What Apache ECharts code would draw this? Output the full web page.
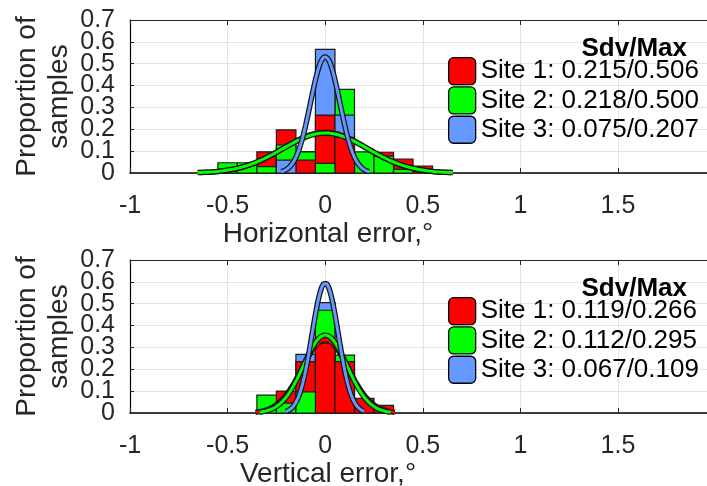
<!DOCTYPE html>
<html>
<head>
<meta charset="utf-8">
<script src="https://cdn.jsdelivr.net/npm/echarts@6/dist/echarts.min.js"></script>
<style>
  html, body { margin: 0; padding: 0; background: #ffffff; }
  #chart { width: 707px; height: 486px; }
</style>
</head>
<body>
<div id="chart"></div>
<script>
const FONT = '"Liberation Sans", Arial, Helvetica, sans-serif';
const AXIS_GREY = '#262626';

const siteNames = ['Site 1', 'Site 2', 'Site 3'];
const siteColors = ['#ff0000', '#00ff00', '#6699ff'];
const binWidth = 0.1;

// Horizontal error: proportion of samples per 0.1° bin
const hBins  = [-0.5, -0.4, -0.3, -0.2, -0.1, 0, 0.1, 0.2, 0.3, 0.4, 0.5];
const hSite1 = [0, 0, 0.097, 0.197, 0.059, 0.265, 0.163, 0, 0.095, 0.064, 0.032];
const hSite2 = [0.047, 0.047, 0.029, 0.128, 0.097, 0.044, 0.383, 0.097, 0.077, 0.017, 0];
const hSite3 = [0, 0, 0, 0.059, 0.097, 0.566, 0.265, 0, 0, 0, 0];
const hMean  = [0, 0, 0];
const hSdv   = [0.215, 0.218, 0.075];
const hMax   = [0.506, 0.500, 0.207];

// Vertical error: proportion of samples per 0.1° bin
const vBins  = [-0.3, -0.2, -0.1, 0, 0.1, 0.2, 0.3];
const vSite1 = [0, 0.100, 0.235, 0.320, 0.235, 0.067, 0.035];
const vSite2 = [0.082, 0.045, 0.097, 0.470, 0.265, 0, 0];
const vSite3 = [0, 0, 0.268, 0.505, 0.235, 0, 0];
const vMean  = [0, 0, 0];
const vSdv   = [0.119, 0.112, 0.067];
const vMax   = [0.266, 0.295, 0.109];

// Axis ranges and tick steps
const xMin = -1, xMax = 1.956, xStep = 0.5;
const yMin = 0, yMax = 0.7, yStep = 0.1;
const xTitles = ['Horizontal error,°', 'Vertical error,°'];
const yTitle = 'Proportion of\nsamples';
const legendTitle = 'Sdv/Max';

// Panel geometry (pixels)
const panelTop = [20, 260];
const panelHeight = 153;
const plotLeft = 130;

// Rounded-square legend swatch
const SWATCH = 'path://M5,0H22A5,5,0,0,1,27,5V22A5,5,0,0,1,22,27H5A5,5,0,0,1,0,22V5A5,5,0,0,1,5,0Z';

// Per bin, taller bars go behind shorter ones (ties: later site behind)
function drawRanks(cols) {
  const n = cols[0].length;
  const r = cols.map(() => new Array(n).fill(0));
  for (let i = 0; i < n; i++) {
    const order = [2, 1, 0].sort((a, b) => cols[b][i] - cols[a][i]);
    order.forEach((s, k) => { r[s][i] = k; });
  }
  return r;
}

// Normal fit scaled to bin width, drawn over mean ± 3 sdv
function fitCurve(mean, sdv) {
  const pts = [];
  const n = 160;
  for (let k = 0; k <= n; k++) {
    const x = mean - 3 * sdv + (6 * sdv * k) / n;
    const z = (x - mean) / sdv;
    pts.push([x, binWidth * Math.exp(-z * z / 2) / (sdv * Math.sqrt(2 * Math.PI))]);
  }
  return pts;
}

function renderBar(params, api) {
  const c = api.value(0), v = api.value(1), rank = api.value(2);
  if (!v) return null;
  const p0 = api.coord([c - binWidth / 2, v]);
  const p1 = api.coord([c + binWidth / 2, 0]);
  return {
    type: 'rect',
    z2: rank,
    shape: { x: p0[0], y: p0[1], width: p1[0] - p0[0], height: p1[1] - p0[1] },
    style: { fill: api.visual('color'), stroke: '#1a1a1a', lineWidth: 1.2 }
  };
}

const panels = [
  { bins: hBins, sites: [hSite1, hSite2, hSite3], mean: hMean, sdv: hSdv, max: hMax },
  { bins: vBins, sites: [vSite1, vSite2, vSite3], mean: vMean, sdv: vSdv, max: vMax }
];

const yLabelStyle = { fontFamily: FONT, fontSize: 25, color: AXIS_GREY, margin: 15 };

const grid = [], xAxis = [], yAxis = [], series = [], legend = [], graphic = [];

panels.forEach((p, g) => {
  const top = panelTop[g];
  grid.push({ left: plotLeft, right: 0, top: top, height: panelHeight, containLabel: false });

  xAxis.push({
    type: 'value', gridIndex: g, position: 'bottom',
    min: xMin, max: xMax, interval: xStep,
    axisLine: { onZero: false, lineStyle: { color: '#000', width: 1.5 } },
    axisTick: { inside: true, length: 5, lineStyle: { color: AXIS_GREY } },
    axisLabel: { fontFamily: FONT, fontSize: 25, color: AXIS_GREY, margin: 21, showMinLabel: true, showMaxLabel: false },
    splitLine: { show: true, lineStyle: { color: '#e3e3e3', width: 1 } }
  });
  xAxis.push({
    type: 'value', gridIndex: g, position: 'top',
    min: xMin, max: xMax, interval: xStep,
    axisLine: { onZero: false, lineStyle: { color: AXIS_GREY, width: 1 } },
    axisTick: { inside: true, length: 5, lineStyle: { color: AXIS_GREY } },
    axisLabel: { show: false },
    splitLine: { show: false }
  });
  // Main y axis: line, ticks, grid and the inner tick labels
  yAxis.push({
    type: 'value', gridIndex: g, position: 'left',
    min: yMin, max: yMax, interval: yStep,
    axisLine: { show: true, onZero: false, lineStyle: { color: '#000', width: 1.2 } },
    axisTick: { show: true, inside: true, length: 4, lineStyle: { color: AXIS_GREY } },
    axisLabel: Object.assign({ showMinLabel: false, showMaxLabel: false }, yLabelStyle),
    splitLine: { show: true, lineStyle: { color: '#e3e3e3', width: 1 } }
  });
  // Companion y axis carrying only the end labels (0 and 0.7)
  yAxis.push({
    type: 'value', gridIndex: g, position: 'left', offset: 0,
    min: yMin, max: yMax, interval: yMax - yMin,
    axisLine: { show: false }, axisTick: { show: false }, splitLine: { show: false },
    axisLabel: Object.assign({ showMinLabel: true, showMaxLabel: true }, yLabelStyle)
  });

  const ranks = drawRanks(p.sites);
  const names = [];
  p.sites.forEach((vals, s) => {
    const name = `${siteNames[s]}: ${p.sdv[s].toFixed(3)}/${p.max[s].toFixed(3)}`;
    names.push(name);
    series.push({
      type: 'custom', name: name,
      xAxisIndex: 2 * g, yAxisIndex: 2 * g,
      z: 2,
      itemStyle: { color: siteColors[s] },
      renderItem: renderBar,
      dimensions: ['x', 'y', 'rank'],
      encode: { x: 0, y: 1 },
      data: p.bins.map((c, i) => [c, vals[i], ranks[s][i]])
    });
  });

  // Fitted curves: dark casing underneath, coloured line on top
  p.sites.forEach((vals, s) => {
    const pts = fitCurve(p.mean[s], p.sdv[s]);
    series.push({
      type: 'line', xAxisIndex: 2 * g, yAxisIndex: 2 * g, z: 3,
      showSymbol: false, silent: true, data: pts,
      lineStyle: { color: '#151515', width: 5.5 }
    });
    series.push({
      type: 'line', xAxisIndex: 2 * g, yAxisIndex: 2 * g, z: 3,
      showSymbol: false, silent: true, data: pts,
      lineStyle: { color: siteColors[s], width: 3 }
    });
  });

  legend.push({
    data: names, orient: 'vertical', left: 448, top: top + 37, padding: 0,
    itemGap: 1, itemWidth: 27, itemHeight: 27, icon: SWATCH,
    itemStyle: { borderColor: '#000', borderWidth: 1.3 },
    textStyle: { fontFamily: FONT, fontSize: 26, color: '#000', lineHeight: 27 },
    selectedMode: false
  });

  graphic.push({
    type: 'text', right: 20, top: top + 16, z: 10,
    style: { text: legendTitle, font: `bold 26px ${FONT}`, fill: '#000' }
  });
  graphic.push({
    type: 'text', z: 10, x: 328, y: top + panelHeight + 61,
    style: { text: xTitles[g], font: `28px ${FONT}`, fill: AXIS_GREY, align: 'center', verticalAlign: 'middle' }
  });
  graphic.push({
    type: 'text', z: 10, x: 43, y: top + panelHeight / 2, rotation: Math.PI / 2,
    style: { text: yTitle, font: `28px ${FONT}`, fill: AXIS_GREY, align: 'center', verticalAlign: 'middle', lineHeight: 32 }
  });
});

const chart = echarts.init(document.getElementById('chart'), null, { renderer: 'canvas' });
chart.setOption({
  animation: false,
  backgroundColor: '#ffffff',
  grid, xAxis, yAxis, series, legend, graphic
});
</script>
</body>
</html>
